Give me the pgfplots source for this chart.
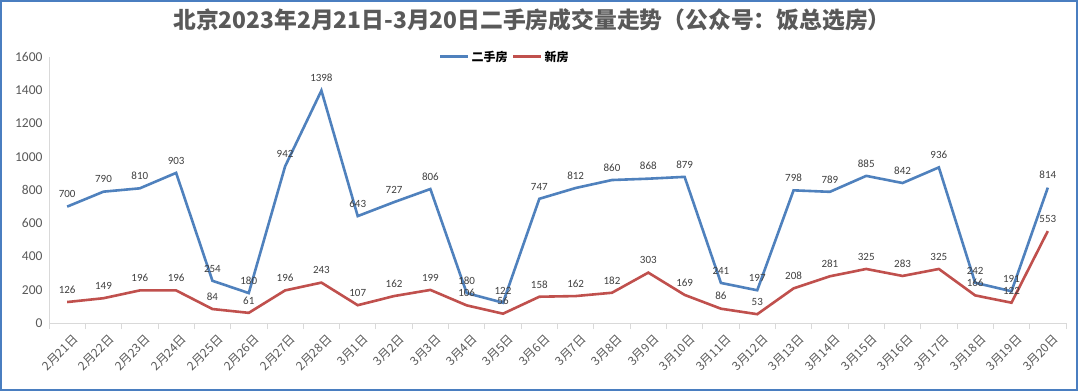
\documentclass[border=0pt]{standalone}
\usepackage{fontspec}
\setmainfont{Carlito}
\newfontfamily\cjk{Noto Sans CJK SC}
\usepackage{pgfplots}
\usepackage{pgfplotstable}
\pgfplotsset{compat=1.18}
\definecolor{sblue}{HTML}{4F81BD}
\definecolor{sred}{HTML}{C0504D}
\definecolor{tgray}{HTML}{595959}
\definecolor{lgray}{HTML}{404040}
\definecolor{agray}{HTML}{D9D9D9}
\definecolor{frame}{HTML}{4A7EC0}

\pgfplotstableread{
x a b
0 700 126
1 790 149
2 810 196
3 903 196
4 254 84
5 180 61
6 942 196
7 1398 243
8 643 107
9 727 162
10 806 199
11 180 106
12 122 56
13 747 158
14 812 162
15 860 182
16 868 303
17 879 169
18 241 86
19 197 53
20 798 208
21 789 281
22 885 325
23 842 283
24 936 325
25 242 166
26 191 122
27 814 553
}\data

\begin{document}
\begin{tikzpicture}
\fill[white] (0,0) rectangle (1080pt,391pt);
\begin{axis}[
  at={(49pt,68pt)}, anchor=south west,
  scale only axis, width=1017pt, height=266pt,
  xmin=-0.5, xmax=27.5, ymin=0, ymax=1600,
  axis x line*=bottom, axis y line*=left,
  axis line style={draw=agray, line width=0.8pt},
  ytick={0,200,...,1600},
  xtick={0,...,27},
  xticklabels={2月21日,2月22日,2月23日,2月24日,2月25日,2月26日,2月27日,2月28日,3月1日,3月2日,3月3日,3月4日,3月5日,3月6日,3月7日,3月8日,3月9日,3月10日,3月11日,3月12日,3月13日,3月14日,3月15日,3月16日,3月17日,3月18日,3月19日,3月20日},
  minor xtick={-0.5,0.5,...,27.5},
  major tick length=0pt, minor tick length=6pt, tick align=outside,
  minor tick style={draw=agray, line width=0.8pt},
  /pgf/number format/assume math mode=true,
  /pgf/number format/1000 sep={},
  yticklabel style={font=\fontsize{13.5}{15}\selectfont, text=tgray, xshift=-3pt},
  xticklabel style={font=\cjk\fontsize{12}{14}\selectfont, text=tgray, rotate=45, anchor=east, inner sep=0pt, yshift=-16pt, xshift=-4pt},
  legend style={at={(0.448,1.0)}, anchor=center, legend columns=2, draw=none, fill=white,
    font=\cjk\bfseries\fontsize{12}{14}\selectfont, text=black, inner sep=2pt,
    /tikz/every even column/.append style={column sep=2pt}},
  legend image code/.code={\draw[#1, line width=3pt] (0pt,0pt) -- (28pt,0pt);},
  nodes near coords,
  every node near coord/.append style={font=\fontsize{11}{13}\selectfont, text=lgray, anchor=south, yshift=4pt},
  clip=false,
]
\addplot[sblue, line width=2.6pt, mark=none] table[x=x, y=a] {\data};
\addlegendentry{二手房}
\addplot[sred, line width=2.6pt, mark=none] table[x=x, y=b] {\data};
\addlegendentry{新房}
\end{axis}
\node[font=\cjk\bfseries\fontsize{22.8}{26}\selectfont, text=tgray] at (532pt,371pt) {北京2023年2月21日-3月20日二手房成交量走势（公众号：饭总选房）};
\draw[frame, line width=2pt] (1pt,1pt) rectangle (1077pt,390pt);
\pgfresetboundingbox
\path[use as bounding box] (0,0) rectangle (1080pt,391pt);
\end{tikzpicture}
\end{document}
